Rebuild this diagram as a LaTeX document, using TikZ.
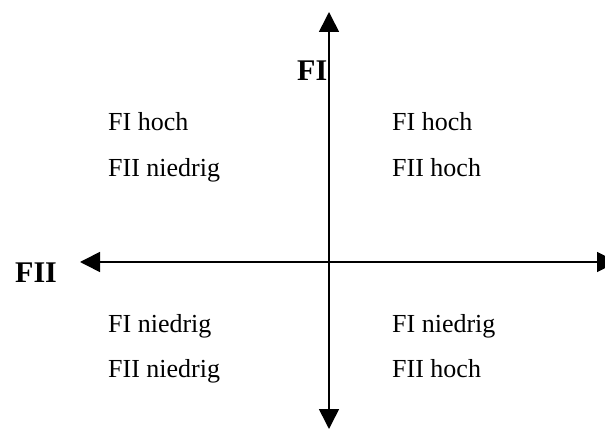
\documentclass[tikz,border=0pt]{standalone}
\usepackage{fontspec}
\setmainfont{Liberation Serif}
\usetikzlibrary{arrows.meta}

\tikzset{
  axis/.style={line width=1.6pt, {Triangle[length=20pt,width=20pt]}-{Triangle[length=20pt,width=20pt]}},
  quad/.style={anchor=base west, inner sep=0pt, font=\fontsize{26}{30}\selectfont},
  axlabel/.style={anchor=base west, inner sep=0pt, font=\fontsize{30}{34}\selectfont\bfseries}
}

\begin{document}
\begin{tikzpicture}[x=1pt, y=-1pt]
        \clip (0,0) rectangle (605,430);

        \coordinate (top) at (329,12);
        \coordinate (bottom) at (329,429);
        \coordinate (left) at (80,262);
        \coordinate (right) at (617,262);

        \draw[axis] (bottom) -- (top);
        \draw[axis] (left) -- (right);

        \node[axlabel] (fi) at (297,81) {FI};
        \node[axlabel] (fii) at (15,283) {FII};

        % upper half
        \node[quad] (ula) at (108,131) {FI hoch};
        \node[quad] (ulb) at (108,177) {FII niedrig};
        \node[quad] (ura) at (392,131) {FI hoch};
        \node[quad] (urb) at (392,177) {FII hoch};

        % lower half
        \node[quad] (lla) at (108,333) {FI niedrig};
        \node[quad] (llb) at (108,377) {FII niedrig};
        \node[quad] (lra) at (392,333) {FI niedrig};
        \node[quad] (lrb) at (392,377) {FII hoch};

    \end{tikzpicture}
\end{document}
